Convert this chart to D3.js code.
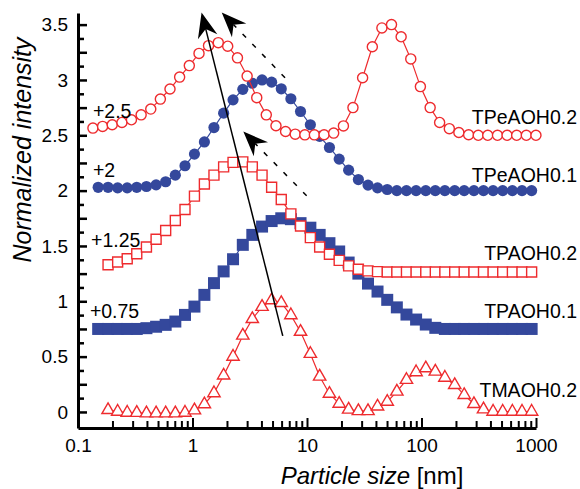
<!DOCTYPE html>
<html>
<head>
<meta charset="utf-8">
<script src="https://cdn.jsdelivr.net/npm/d3@7"></script>
<style>
  body { margin: 0; background: white; }
  svg { display: block; font-family: "Liberation Sans", Arial, sans-serif; }
</style>
</head>
<body>
<div id="chart"></div>
<script>
"use strict"

// DLS size bins (nm)
const sizesA = [0.135, 0.164, 0.199, 0.242, 0.293, 0.356, 0.432, 0.524, 0.636, 0.772,
  0.938, 1.14, 1.38, 1.68, 2.03, 2.47, 3.00, 3.64, 4.41, 5.36,
  6.50, 7.89, 9.58, 11.6, 14.1, 17.1, 20.8, 25.2, 30.6, 37.2,
  45.1, 54.7, 66.4, 80.6, 97.8, 119, 144, 175, 212, 258,
  313, 379, 461, 559, 678, 823, 999]

const sizesB = [0.150, 0.183, 0.222, 0.269, 0.326, 0.396, 0.481, 0.583, 0.708, 0.860,
  1.04, 1.27, 1.54, 1.87, 2.26, 2.75, 3.33, 4.05, 4.91, 5.96,
  7.23, 8.78, 10.7, 12.9, 15.7, 19.1, 23.1, 28.1, 34.1, 41.3,
  50.2, 60.9, 73.9, 89.7, 109, 132, 160, 195, 236, 287,
  348, 422, 512, 622, 755, 916]

// normalized intensity incl. vertical offsets
const tpeaoh02 = [2.565, 2.58, 2.595, 2.616, 2.64, 2.685, 2.737, 2.827, 2.918, 3.026,
  3.13, 3.24, 3.31, 3.337, 3.305, 3.2, 3.035, 2.84, 2.685, 2.586,
  2.534, 2.51, 2.504, 2.504, 2.505, 2.52, 2.585, 2.75, 3.02, 3.3,
  3.47, 3.5, 3.39, 3.19, 2.94, 2.75, 2.616, 2.56, 2.525, 2.505,
  2.5, 2.5, 2.5, 2.5, 2.5, 2.5, 2.5]

const tpeaoh01 = [2.03, 2.03, 2.025, 2.025, 2.03, 2.037, 2.052, 2.08, 2.14, 2.225,
  2.33, 2.44, 2.57, 2.70, 2.82, 2.915, 2.97, 3.0, 2.98, 2.92,
  2.83, 2.715, 2.595, 2.49, 2.39, 2.285, 2.185, 2.10, 2.05, 2.025,
  2.01, 2.0, 2.0, 2.0, 2.0, 2.0, 2.0, 2.0, 2.0, 2.0,
  2.0, 2.0, 2.0, 2.0, 2.0, 2.0]

const tpaoh02 = [null, 1.33, 1.355, 1.385, 1.43, 1.49, 1.56, 1.64, 1.73, 1.83,
  1.95, 2.06, 2.14, 2.215, 2.255, 2.26, 2.215, 2.14, 2.03, 1.92,
  1.79, 1.68, 1.575, 1.49, 1.425, 1.37, 1.32, 1.29, 1.275, 1.268,
  1.265, 1.265, 1.265, 1.265, 1.265, 1.265, 1.265, 1.265, 1.265, 1.265,
  1.265, 1.265, 1.265, 1.265, 1.265, 1.265]

const tpaoh01 = [0.75, 0.75, 0.75, 0.75, 0.75, 0.757, 0.77, 0.787, 0.817, 0.877,
  0.952, 1.058, 1.164, 1.27, 1.38, 1.51, 1.60, 1.675, 1.725, 1.75,
  1.742, 1.706, 1.665, 1.60, 1.525, 1.45, 1.35, 1.25, 1.16, 1.088,
  1.013, 0.945, 0.88, 0.835, 0.79, 0.76, 0.75, 0.75, 0.75, 0.75,
  0.75, 0.75, 0.75, 0.75, 0.75, 0.75]

const tmaoh02 = [null, 0.018, 0.003, -0.006, -0.008, -0.012, -0.012, -0.012, -0.012, -0.006,
  0.015, 0.07, 0.17, 0.33, 0.50, 0.69, 0.84, 0.95, 1.01, 0.985,
  0.875, 0.725, 0.525, 0.32, 0.165, 0.075, 0.022, 0.008, 0.008, 0.05,
  0.093, 0.184, 0.29, 0.36, 0.395, 0.365, 0.31, 0.244, 0.154, 0.072,
  0.024, 0.003, 0.003, 0.003, 0.003, 0.003]

const seriesNames = ["TPeAOH0.2", "TPeAOH0.1", "TPAOH0.2", "TPAOH0.1", "TMAOH0.2"]
const labelValues = [2.604, 2.082, 1.374, 0.85, 0.138]
const offsetTexts = ["+2.5", "+2", "+1.25", "+0.75"]
const offsetAt = [[0.135, 2.658], [0.135, 2.125], [0.130, 1.492], [0.127, 0.85]]

const xTicks = [0.1, 1, 10, 100, 1000]
const xTickLabels = ["0.1", "1", "10", "100", "1000"]
const yTicks = [0, 0.5, 1, 1.5, 2, 2.5, 3, 3.5]
const yTickLabels = ["0", "0.5", "1", "1.5", "2", "2.5", "3", "3.5"]

// arrows: [tail, tip] in data units
const arrows = [
  {from: [6.14, 0.687], to: [1.20, 3.61], dashed: false},
  {from: [6.43, 3.02], to: [1.80, 3.61], dashed: true},
  {from: [9.93, 1.953], to: [2.78, 2.534], dashed: true},
]

const red = "#ee2b2e"
const blue = "#34489c"

function drawChart() {
  const width = 580, height = 489
  const margin = {top: 13, right: 44, bottom: 61, left: 78}

  const x = d3.scaleLog()
    .domain([0.1, 1000])
    .range([margin.left, width - margin.right])

  const y = d3.scaleLinear()
    .domain([-0.145, 3.605])
    .range([height - margin.bottom, margin.top])

  const svg = d3.select("#chart").append("svg")
    .attr("width", width)
    .attr("height", height)
    .attr("viewBox", `0,0,${width},${height}`)

  const series = [
    {name: "TPAOH0.1", sizes: sizesB, values: tpaoh01, color: blue, shape: d3.symbolSquare, size: 144, filled: true},
    {name: "TPAOH0.2", sizes: sizesB, values: tpaoh02, color: red, shape: d3.symbolSquare, size: 100, filled: false},
    {name: "TPeAOH0.1", sizes: sizesB, values: tpeaoh01, color: blue, shape: d3.symbolCircle, size: 98, filled: true},
    {name: "TPeAOH0.2", sizes: sizesA, values: tpeaoh02, color: red, shape: d3.symbolCircle, size: 80, filled: false},
    {name: "TMAOH0.2", sizes: sizesB, values: tmaoh02, color: red, shape: d3.symbolTriangle, size: 66, filled: false},
  ]

  const line = d3.line()
    .defined(d => d[1] != null)
    .x(d => x(d[0]))
    .y(d => y(d[1]))

  series.forEach(s => {
    const pts = s.sizes.map((v, i) => [v, s.values[i]])
    const g = svg.append("g").attr("class", "series")
    g.append("path")
      .attr("d", line(pts))
      .attr("fill", "none")
      .attr("stroke", s.color)
      .attr("stroke-width", 1.2)
    g.selectAll("path.mark")
      .data(pts.filter(d => d[1] != null))
      .join("path")
        .attr("class", "mark")
        .attr("transform", d => `translate(${x(d[0])},${y(d[1])})`)
        .attr("d", d3.symbol(s.shape, s.size))
        .attr("fill", s.filled ? s.color : "white")
        .attr("stroke", s.color)
        .attr("stroke-width", s.filled ? 0 : 1.4)
  })

  // axes, ticks point inward
  const yMinor = d3.range(0, 3.6, 0.125)
  svg.append("g")
    .attr("transform", `translate(${margin.left},0)`)
    .call(d3.axisRight(y).tickValues(yMinor.filter((v, i) => i % 2 == 1)).tickSize(6).tickSizeOuter(0).tickFormat(""))
    .call(g => g.select(".domain").remove())
    .selectAll("line").attr("stroke-width", 2.5)

  svg.append("g")
    .attr("transform", `translate(${margin.left},0)`)
    .call(d3.axisRight(y).tickValues(yMinor.filter((v, i) => i % 2 == 0)).tickSize(9).tickSizeOuter(0).tickFormat(""))
    .call(g => g.select(".domain").remove())
    .selectAll("line").attr("stroke-width", 2.5)

  const yAxis = svg.append("g")
    .attr("transform", `translate(${margin.left},0)`)
    .call(d3.axisLeft(y).tickValues(yTicks).tickSize(0).tickPadding(10).tickSizeOuter(0)
      .tickFormat((d, i) => yTickLabels[i]))
  yAxis.select(".domain").attr("stroke-width", 3)
  yAxis.selectAll("text").attr("font-size", 19).attr("font-family", null).attr("fill", "black")

  const xMinor = []
  xTicks.slice(0, -1).forEach(d => d3.range(2, 10).forEach(k => xMinor.push(d * k)))

  svg.append("g")
    .attr("transform", `translate(0,${height - margin.bottom})`)
    .call(d3.axisTop(x).tickValues(xMinor).tickSize(7).tickSizeOuter(0).tickFormat(""))
    .call(g => g.select(".domain").remove())
    .selectAll("line").attr("stroke-width", 2)

  const xAxis = svg.append("g")
    .attr("transform", `translate(0,${height - margin.bottom})`)
    .call(d3.axisBottom(x).tickValues(xTicks).tickSize(-10).tickPadding(11).tickSizeOuter(0)
      .tickFormat((d, i) => xTickLabels[i]))
  xAxis.select(".domain").attr("stroke-width", 3)
  xAxis.selectAll("line").attr("stroke-width", 2)
  xAxis.selectAll("text").attr("font-size", 19).attr("font-family", null).attr("fill", "black")

  // axis titles
  svg.append("text")
    .attr("transform", `translate(31,150) rotate(-90)`)
    .attr("text-anchor", "middle")
    .attr("font-size", 25)
    .attr("font-style", "italic")
    .text("Normalized intensity")

  const xt = svg.append("text")
    .attr("x", 372)
    .attr("y", 484)
    .attr("text-anchor", "middle")
    .attr("font-size", 24)
  xt.append("tspan").attr("font-style", "italic").text("Particle size")
  xt.append("tspan").text(" [nm]")

  // offsets and names
  svg.selectAll("text.offset")
    .data(offsetTexts)
    .join("text")
      .attr("class", "offset")
      .attr("x", (d, i) => x(offsetAt[i][0]))
      .attr("y", (d, i) => y(offsetAt[i][1]))
      .attr("font-size", 19.5)
      .text(d => d)

  svg.selectAll("text.name")
    .data(seriesNames)
    .join("text")
      .attr("class", "name")
      .attr("x", width - 3)
      .attr("y", (d, i) => y(labelValues[i]))
      .attr("text-anchor", "end")
      .attr("font-size", 19.5)
      .text(d => d)

  // arrows on top
  const headLen = 25, headW = 10, notch = 17
  arrows.forEach(a => {
    const x0 = x(a.from[0]), y0 = y(a.from[1])
    const x1 = x(a.to[0]), y1 = y(a.to[1])
    const len = Math.hypot(x1 - x0, y1 - y0)
    const ux = (x0 - x1) / len, uy = (y0 - y1) / len
    const px = -uy, py = ux

    svg.append("line")
      .attr("x1", x0).attr("y1", y0)
      .attr("x2", x1 + ux * notch).attr("y2", y1 + uy * notch)
      .attr("stroke", "black")
      .attr("stroke-width", 1.5)
      .attr("stroke-dasharray", a.dashed ? "5,9" : null)

    const head = [
      [x1, y1],
      [x1 + ux * headLen + px * headW, y1 + uy * headLen + py * headW],
      [x1 + ux * notch, y1 + uy * notch],
      [x1 + ux * headLen - px * headW, y1 + uy * headLen - py * headW],
    ]
    svg.append("path")
      .attr("d", "M" + head.map(p => p.join(",")).join("L") + "Z")
      .attr("fill", "black")
  })
}

drawChart()
</script>
</body>
</html>
